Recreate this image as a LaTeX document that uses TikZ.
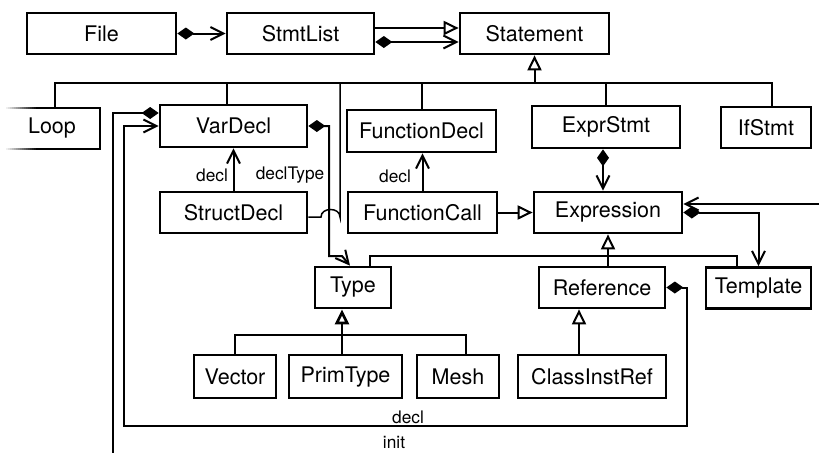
\documentclass[tikz,border=0pt]{standalone}
\usepackage{fontspec}
\setmainfont{TeX Gyre Heros}
\usetikzlibrary{arrows.meta}
\begin{document}
\begin{tikzpicture}[x=1pt,y=-1pt,
  box/.style={draw, line width=2.7pt, minimum height=41pt, inner sep=0pt,
    font=\fontsize{21.5}{24}\selectfont},
  lbl/.style={font=\fontsize{17.3}{20}\selectfont, inner sep=0pt},
  conn/.style={line width=2pt},
  comp/.tip={Diamond[length=17pt,width=12pt]},
  oarr/.tip={Straight Barb[length=13pt,width=13pt]},
  gen/.tip={Triangle[length=15pt,width=14pt,fill=white]},
]
\useasboundingbox (0,0) rectangle (819,453);

% classes
\node[box, minimum width=149pt] (File)      at (101.5,33.5) {File};
\node[box, minimum width=147pt] (StmtList)  at (300.5,33.5) {StmtList};
\node[box, minimum width=149pt] (Statement) at (534.5,33.5) {Statement};

\node[box, draw=none, minimum width=96pt] (Loop) at (52,128.5) {Loop};
\node[box, minimum width=147pt, minimum height=42pt] (VarDecl)      at (233.5,126) {VarDecl};
\node[box, minimum width=149pt, minimum height=42pt] (FunctionDecl) at (421.5,131) {FunctionDecl};
\node[box, minimum width=148pt, minimum height=42pt] (ExprStmt)     at (606,127)   {ExprStmt};
\node[box, minimum width=90pt] (IfStmt) at (766,127.5) {IfStmt};

\node[box, minimum width=147pt] (StructDecl)   at (233.5,212.5) {StructDecl};
\node[box, minimum width=149pt] (FunctionCall) at (422.5,212.5) {FunctionCall};
\node[box, minimum width=148pt] (Expression)   at (608,212.5)   {Expression};

\node[box, minimum width=76pt]  (Type)      at (353,287.5)   {Type};
\node[box, minimum width=126pt] (Reference) at (602,287.5)   {Reference};
\node[box, minimum width=105pt] (Template)  at (758.5,288)   {Template};

\node[box, minimum width=82pt,  minimum height=43pt] (Vector)       at (235,376.5)   {Vector};
\node[box, minimum width=113pt, minimum height=43pt] (PrimType)     at (345.5,376.5) {PrimType};
\node[box, minimum width=82pt,  minimum height=43pt] (Mesh)         at (458,376.5)   {Mesh};
\node[box, minimum width=148pt, minimum height=43pt] (ClassInstRef) at (592,376.5)   {ClassInstRef};

% Loop box, fading out towards the left edge
\draw[line width=2.7pt] (36,108) -- (100,108) -- (100,149) -- (36,149);
\foreach \i in {0,...,14} {
  \pgfmathsetmacro\fadeval{100*(\i+1)/16}
  \draw[line width=2.7pt, black!\fadeval] (6+2*\i,108) -- (8.3+2*\i,108);
  \draw[line width=2.7pt, black!\fadeval] (6+2*\i,149) -- (8.3+2*\i,149);
}

% File / StmtList / Statement
\draw[conn, comp-oarr] (File.east) -- (StmtList.west);
\draw[conn, -gen] ([yshift=5.5pt]StmtList.east) -- ([yshift=5.5pt]Statement.west);
\draw[conn, comp-oarr] ([yshift=-8.5pt]StmtList.east) -- ([yshift=-8.5pt]Statement.west);

% Statement hierarchy
\coordinate (sbus) at (534.5,83);
\draw[conn, -gen] (sbus) -- (Statement.south);
\draw[conn] ([xshift=3pt]Loop.north) |- ([xshift=6pt]IfStmt.north |- sbus) -- ([xshift=6pt]IfStmt.north);
\draw[conn] ([xshift=-6.5pt]VarDecl.north) -- ([xshift=-6.5pt]VarDecl.north |- sbus);
\draw[conn] (FunctionDecl.north) -- (FunctionDecl.north |- sbus);
\draw[conn] (ExprStmt.north) -- (ExprStmt.north |- sbus);
\draw[line width=1.5pt] ([yshift=-4.5pt]StructDecl.east) -- (321,217)
  .. controls (321,207) and (340,207) .. (340,217) -- (340,83);

% VarDecl / StructDecl / Type
\draw[conn, comp-oarr] (VarDecl.east) -- (329,126) -- (329,256) -- (342,256) -- ([xshift=-3pt]Type.north);
\draw[conn, -oarr] (StructDecl.north) -- (VarDecl.south);
\node[lbl] (lblDecl1) at (212,175) {decl};
\node[lbl] (lblDeclType) at (290,175) {declType};

% FunctionCall
\draw[conn, -oarr] (FunctionCall.north) -- (FunctionCall.north |- FunctionDecl.south);
\node[lbl] (lblDecl2) at (395,176) {decl};
\draw[conn, -gen] (FunctionCall.east) -- (Expression.west);

% ExprStmt -> Expression
\draw[conn, comp-oarr] ([xshift=-3pt]ExprStmt.south) -- ([xshift=-5pt]Expression.north);

% Expression hierarchy
\coordinate (ebus) at (608,256);
\draw[conn, -gen] (Expression.south |- Reference.north) -- (Expression.south);
\draw[conn] ([xshift=17pt]Type.north) |- ([xshift=-21.5pt]Template.north |- ebus) -- ([xshift=-21.5pt]Template.north);

% Expression right side
\coordinate (rin) at (819,204);
\draw[conn, -oarr] (rin) -- ([yshift=8.5pt]Expression.east);
\draw[conn, comp-oarr] (Expression.east) -| (Template.north);

% Type hierarchy
\coordinate (tbus) at (342,335);
\draw[line width=2.7pt, -gen] (PrimType.north -| tbus) -- (Type.south -| tbus);
\draw[conn] (Vector.north) |- ([xshift=8pt]Mesh.north |- tbus) -- ([xshift=8pt]Mesh.north);

% Reference hierarchy
\draw[conn, -gen] ([xshift=-13pt]ClassInstRef.north) -- ([xshift=-13pt]ClassInstRef.north |- Reference.south);

% Reference decl loop back to VarDecl
\draw[conn, comp-oarr] (Reference.east) -| (687,426) -| (124,126) -- (VarDecl.west);
\node[lbl] (lblDecl3) at (408,417) {decl};

% VarDecl init
\coordinate (initEnd) at (113,453);
\draw[conn, comp-] ([yshift=13pt]VarDecl.west) -| (initEnd);
\node[lbl] (lblInit) at (394,442) {init};
\end{tikzpicture}
\end{document}
